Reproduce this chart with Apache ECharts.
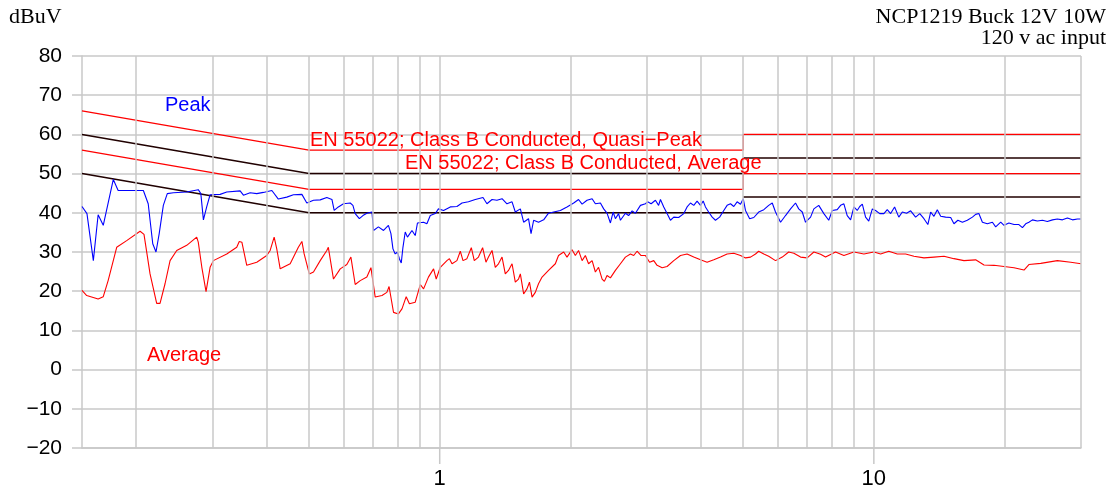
<!DOCTYPE html>
<html>
<head>
<meta charset="utf-8">
<script src="https://cdn.jsdelivr.net/npm/echarts@6/dist/echarts.min.js"></script>
<style>
  html, body { margin: 0; padding: 0; background: #fff; }
  #chart { width: 1114px; height: 493px; }
</style>
</head>
<body>
<div id="chart"></div>
<script>
// frequency in MHz, level in dBuV
const peakData = [
  [0.15, 41.6], [0.154, 39.8], [0.1593, 27.8], [0.1634, 39.5], [0.1679, 36.8], [0.1771, 48.5],
  [0.1817, 45.7], [0.1935, 45.7], [0.2077, 45.7], [0.2131, 42.3], [0.2183, 32.1], [0.2221, 30.0],
  [0.2259, 34.7], [0.2309, 41.9], [0.2358, 44.9], [0.2435, 45.1], [0.2614, 45.3], [0.2779, 45.9],
  [0.2817, 44.9], [0.2856, 38.2], [0.2906, 41.5], [0.2959, 44.6], [0.3121, 44.7], [0.3232, 45.3],
  [0.347, 45.6], [0.3531, 44.5], [0.3659, 45.1], [0.379, 44.9], [0.3926, 45.2], [0.4106, 45.7],
  [0.4249, 43.5], [0.4444, 44.0], [0.4604, 44.6], [0.4815, 44.7], [0.4942, 42.5], [0.512, 43.2],
  [0.5306, 43.3], [0.5495, 43.9], [0.5646, 43.4], [0.5714, 40.6], [0.5842, 41.5], [0.6004, 42.3],
  [0.6221, 42.5], [0.6311, 41.9], [0.6388, 39.8], [0.653, 38.5], [0.6655, 39.3], [0.6795, 39.9],
  [0.6981, 40.2], [0.704, 35.5], [0.7224, 36.4], [0.7424, 35.5], [0.7618, 36.8], [0.7721, 34.7],
  [0.7804, 30.8], [0.7898, 29.5], [0.7992, 30.0], [0.8074, 28.3], [0.8155, 27.2], [0.8229, 31.2],
  [0.8329, 35.1], [0.8428, 33.8], [0.8632, 35.5], [0.8783, 34.2], [0.8887, 37.4], [0.918, 37.6],
  [0.9343, 37.2], [0.9513, 39.3], [0.9767, 39.8], [0.9933, 41.0], [1.0208, 40.6], [1.0578, 41.5],
  [1.0956, 41.6], [1.1256, 42.5], [1.1648, 42.8], [1.2077, 43.4], [1.2582, 43.9], [1.2847, 42.3],
  [1.3199, 43.4], [1.3547, 43.2], [1.3918, 43.6], [1.4285, 42.3], [1.4677, 42.8], [1.4933, 40.2],
  [1.5338, 41.0], [1.5607, 37.6], [1.6016, 38.5], [1.6233, 34.7], [1.6458, 38.1], [1.6889, 37.6],
  [1.7355, 38.2], [1.7809, 39.9], [1.8301, 40.2], [1.8965, 40.6], [1.9642, 41.5], [2.0351, 42.5],
  [2.0883, 43.4], [2.1281, 42.2], [2.1842, 43.2], [2.2441, 43.6], [2.2833, 42.3], [2.3451, 42.5],
  [2.3864, 41.0], [2.4288, 39.9], [2.4729, 37.4], [2.5085, 40.2], [2.539, 38.5], [2.5822, 39.8],
  [2.6078, 38.1], [2.6774, 39.9], [2.723, 39.3], [2.7749, 40.5], [2.8233, 39.9], [2.8998, 41.9],
  [2.9772, 42.3], [3.0126, 42.8], [3.0692, 42.3], [3.1395, 43.2], [3.193, 41.9], [3.2246, 43.4],
  [3.2813, 41.5], [3.3397, 39.8], [3.4003, 38.1], [3.4602, 38.9], [3.5506, 38.8], [3.6488, 39.8],
  [3.7137, 41.5], [3.7812, 42.5], [3.8477, 41.9], [3.9161, 43.0], [3.9873, 41.9], [4.0447, 43.0],
  [4.0937, 41.5], [4.1635, 40.2], [4.2429, 38.9], [4.3169, 38.1], [4.4132, 38.9], [4.5118, 40.6],
  [4.5921, 41.9], [4.6755, 42.3], [4.7578, 41.6], [4.8424, 42.8], [4.9304, 42.2], [5.0014, 43.6],
  [5.062, 40.6], [5.1749, 38.5], [5.2906, 38.8], [5.4289, 40.2], [5.579, 40.8], [5.7249, 41.9],
  [5.834, 42.5], [5.9358, 40.2], [6.0966, 37.6], [6.2593, 39.3], [6.4289, 41.0], [6.6005, 42.5],
  [6.713, 41.0], [6.841, 40.2], [6.9603, 37.6], [7.1489, 38.9], [7.2747, 41.0], [7.4649, 41.9],
  [7.5386, 41.9], [7.6713, 39.8], [7.8718, 38.1], [8.0218, 40.6], [8.2333, 40.8], [8.3828, 41.9],
  [8.5304, 42.3], [8.6821, 39.3], [8.8398, 38.2], [8.9954, 41.5], [9.1554, 40.6], [9.2782, 41.6],
  [9.4065, 42.2], [9.5705, 38.9], [9.7337, 37.9], [9.9192, 41.0], [10.092, 40.6], [10.317, 39.8],
  [10.548, 39.8], [10.736, 40.8], [10.931, 39.8], [11.163, 41.5], [11.414, 38.9], [11.631, 40.2],
  [11.895, 39.9], [12.155, 40.5], [12.479, 38.9], [12.758, 39.8], [13.043, 38.5], [13.316, 37.0],
  [13.516, 40.2], [13.754, 39.1], [13.999, 40.8], [14.253, 39.1], [14.633, 38.9], [15.03, 38.8],
  [15.294, 37.2], [15.614, 38.1], [15.993, 37.6], [16.415, 38.1], [16.865, 38.9], [17.159, 39.6],
  [17.452, 39.8], [17.784, 37.6], [18.253, 37.2], [18.754, 37.6], [19.081, 36.4], [19.598, 37.6],
  [19.943, 36.8], [20.464, 37.4], [21.03, 37.0], [21.58, 37.0], [21.991, 36.2], [22.374, 37.2],
  [22.756, 37.6], [23.19, 38.2], [23.801, 37.9], [24.454, 38.1], [25.098, 37.8], [25.787, 38.2],
  [26.467, 38.4], [27.192, 38.2], [27.909, 38.7], [28.675, 38.2], [29.431, 38.4], [30, 38.4]
];

const averageData = [
  [0.15, 20.2], [0.1538, 18.9], [0.1634, 18.0], [0.1679, 18.6], [0.1723, 22.7], [0.1803, 31.2],
  [0.1901, 32.9], [0.2041, 35.3], [0.2084, 34.5], [0.2152, 24.4], [0.2229, 16.9], [0.2269, 16.9],
  [0.233, 21.9], [0.2393, 27.8], [0.2479, 30.4], [0.2614, 31.7], [0.2756, 33.8], [0.2779, 32.5],
  [0.2832, 26.1], [0.2896, 19.9], [0.2959, 26.1], [0.3011, 27.8], [0.3232, 29.5], [0.3408, 31.2],
  [0.3454, 32.7], [0.3502, 32.5], [0.3594, 26.6], [0.379, 27.4], [0.3996, 29.1], [0.4069, 30.4],
  [0.4156, 33.8], [0.4214, 30.8], [0.4291, 25.7], [0.4525, 27.0], [0.4725, 31.2], [0.4815, 32.7],
  [0.4873, 29.5], [0.5008, 24.4], [0.512, 24.9], [0.5306, 27.8], [0.5495, 30.4], [0.554, 31.2],
  [0.5693, 23.1], [0.59, 25.7], [0.611, 26.8], [0.6244, 28.7], [0.6388, 21.7], [0.6561, 22.7],
  [0.6795, 23.6], [0.6944, 26.0], [0.7103, 18.5], [0.7362, 18.9], [0.7556, 19.7], [0.7645, 21.2],
  [0.7828, 14.6], [0.8033, 14.2], [0.8186, 15.5], [0.8372, 18.6], [0.8515, 16.8], [0.8783, 17.2],
  [0.9021, 21.7], [0.918, 20.6], [0.942, 23.6], [0.968, 25.7], [0.9817, 23.1], [1.0031, 26.1],
  [1.0389, 27.8], [1.0529, 28.3], [1.0674, 27.0], [1.0956, 27.8], [1.1155, 30.2], [1.1315, 27.8],
  [1.1553, 28.3], [1.1825, 31.1], [1.2013, 27.8], [1.2282, 28.7], [1.2556, 31.1], [1.2781, 27.4],
  [1.2952, 28.7], [1.3199, 30.4], [1.3429, 26.1], [1.3658, 27.0], [1.3918, 28.7], [1.4161, 24.4],
  [1.4402, 25.3], [1.4677, 27.0], [1.4933, 22.3], [1.5188, 23.1], [1.5338, 24.4], [1.5607, 19.3],
  [1.5885, 20.6], [1.6098, 22.3], [1.6321, 18.5], [1.6605, 19.7], [1.6889, 21.9], [1.721, 23.6],
  [1.7809, 25.3], [1.8465, 27.0], [1.878, 29.1], [1.8965, 28.7], [1.9299, 30.0], [1.9642, 28.7],
  [2.0181, 30.6], [2.0533, 29.1], [2.0883, 30.4], [2.1281, 27.8], [2.1652, 29.1], [2.2021, 27.0],
  [2.2441, 27.8], [2.2833, 24.9], [2.3222, 26.1], [2.3665, 23.1], [2.3951, 22.5], [2.4288, 24.0],
  [2.4729, 23.4], [2.539, 25.3], [2.6078, 27.0], [2.6774, 28.7], [2.7499, 29.5], [2.7983, 29.1],
  [2.8481, 30.2], [2.9105, 29.1], [2.9772, 29.1], [3.0436, 27.4], [3.1117, 27.8], [3.167, 26.6],
  [3.2539, 26.0], [3.3397, 26.3], [3.4602, 27.8], [3.5857, 29.1], [3.7137, 29.5], [3.8477, 28.7],
  [3.9873, 28.0], [4.1296, 27.4], [4.2786, 28.0], [4.4338, 28.7], [4.5921, 29.5], [4.7578, 29.7],
  [4.9304, 29.1], [5.062, 28.5], [5.1991, 28.7], [5.3379, 29.5], [5.4289, 30.2], [5.579, 29.5],
  [5.7249, 28.9], [5.9358, 27.8], [6.152, 28.7], [6.366, 30.0], [6.542, 29.7], [6.7793, 28.7],
  [7.0213, 28.5], [7.2747, 30.0], [7.5386, 29.4], [7.7399, 28.7], [8.1617, 30.0], [8.5304, 29.1],
  [8.9954, 30.0], [9.4857, 29.5], [10.003, 30.0], [10.366, 29.5], [10.824, 30.2], [11.321, 29.5],
  [11.834, 29.5], [12.369, 28.9], [13.043, 28.5], [13.754, 28.7], [14.504, 28.9], [15.294, 28.3],
  [16.128, 27.8], [17.159, 28.0], [17.934, 26.7], [18.912, 26.6], [19.943, 26.3], [21.03, 26.0],
  [22.176, 25.4], [22.756, 26.8], [24.233, 27.1], [26.467, 27.8], [28.416, 27.4], [30, 27.0]
];

// EN 55022 class B limits and the 6 dB margin lines (null breaks the line)
const qpLimit = [[0.15, 66], [0.5, 56], [5, 56], [5, 60], [30, 60]];
const avgLimit = [[0.15, 56], [0.5, 46], [5, 46], [5, 50], [30, 50]];
const qpMargin = [[0.15, 60], [0.5, 50], [5, 50], [5, null], [5, 54], [30, 54]];
const avgMargin = [[0.15, 50], [0.5, 40], [5, 40], [5, null], [5, 44], [30, 44]];

const gridFreqs = [0.2, 0.3, 0.4, 0.5, 0.6, 0.7, 0.8, 0.9, 1, 2, 3, 4, 5, 6, 7, 8, 9, 10, 20, 30];
const xTickLabels = [1, 10];

const GRID = '#c8c8c8';
const SANS = '"Liberation Sans", Arial, sans-serif';
const SERIF = '"Liberation Serif", "Times New Roman", serif';

const chart = echarts.init(document.getElementById('chart'), null, { renderer: 'canvas' });

const lineSeries = (name, data, color, width) => ({
  name,
  type: 'line',
  data,
  symbol: 'none',
  silent: true,
  animation: false,
  lineStyle: { color, width },
  z: 3
});

const texts = [
  { type: 'text', x: 9, y: 17.5, style: { text: 'dBuV', font: '22px ' + SERIF, fill: '#000', textVerticalAlign: 'middle' } },
  { type: 'text', x: 1106, y: 17.5, style: { text: 'NCP1219 Buck 12V 10W', font: '22px ' + SERIF, fill: '#000', textAlign: 'right', textVerticalAlign: 'middle' } },
  { type: 'text', x: 1106, y: 38.5, style: { text: '120 v ac input', font: '22px ' + SERIF, fill: '#000', textAlign: 'right', textVerticalAlign: 'middle' } },
  { type: 'text', x: 165, y: 105, z: 10, style: { text: 'Peak', font: '20px ' + SANS, fill: '#0000ff', textVerticalAlign: 'middle' } },
  { type: 'text', x: 147, y: 355, z: 10, style: { text: 'Average', font: '20px ' + SANS, fill: '#ff0000', textVerticalAlign: 'middle' } },
  { type: 'text', x: 310, y: 140, z: 10, style: { text: 'EN 55022; Class B Conducted, Quasi\u2212Peak', font: '20px ' + SANS, fill: '#ff0000', textVerticalAlign: 'middle' } },
  { type: 'text', x: 405, y: 163, z: 10, style: { text: 'EN 55022; Class B Conducted, Average', font: '20px ' + SANS, fill: '#ff0000', textVerticalAlign: 'middle' } }
];

chart.setOption({
  backgroundColor: '#fff',
  animation: false,
  grid: { left: 82, right: 33, top: 56, bottom: 45 },
  xAxis: {
    type: 'log',
    logBase: 10,
    min: 0.15,
    max: 30,
    // keep the axis at the bottom edge, not at y = 0
    axisLine: { show: true, onZero: false, lineStyle: { color: GRID, width: 1.5 } },
    splitLine: { show: false },
    axisTick: { show: false },
    axisLabel: {
      showMinLabel: false,
      showMaxLabel: false,
      fontSize: 22,
      fontFamily: SANS,
      color: '#000',
      margin: 20,
      formatter: (v) => (xTickLabels.indexOf(Math.round(v * 1000) / 1000) >= 0 ? String(Math.round(v)) : '')
    }
  },
  yAxis: {
    type: 'value',
    min: -20,
    max: 80,
    interval: 10,
    axisLine: { show: true, lineStyle: { color: GRID, width: 1.5 } },
    axisTick: { show: true, length: 10, lineStyle: { color: GRID, width: 1.5 } },
    splitLine: { show: true, lineStyle: { color: GRID, width: 1.5 } },
    axisLabel: {
      fontSize: 21,
      fontFamily: SANS,
      color: '#000',
      margin: 20,
      formatter: (v) => String(v).replace('-', '\u2212')
    }
  },
  series: [
    {
      name: 'grid',
      type: 'line',
      data: [],
      silent: true,
      z: 1,
      markLine: {
        silent: true,
        symbol: 'none',
        animation: false,
        label: { show: false },
        lineStyle: { color: GRID, width: 1.5, type: 'solid' },
        data: gridFreqs.map((f) => ({ xAxis: f }))
      }
    },
    lineSeries('QP limit', qpLimit, '#ff0000', 1.3),
    lineSeries('Average limit', avgLimit, '#ff0000', 1.3),
    lineSeries('QP margin', qpMargin, '#200000', 1.5),
    lineSeries('Average margin', avgMargin, '#200000', 1.5),
    lineSeries('Average', averageData, '#ff0000', 1.1),
    lineSeries('Peak', peakData, '#0000ff', 1.1)
  ],
  graphic: texts
});

// major ticks under 1 and 10 MHz, placed through the axis scale
const axisY = chart.convertToPixel({ yAxisIndex: 0 }, -20);
const ticks = xTickLabels.map((f) => {
  const x = chart.convertToPixel({ xAxisIndex: 0 }, f);
  return {
    type: 'line',
    silent: true,
    shape: { x1: x, y1: axisY, x2: x, y2: axisY + 16 },
    style: { stroke: GRID, lineWidth: 1.5 }
  };
});
chart.setOption({ graphic: texts.concat(ticks) });

window.addEventListener('resize', () => chart.resize());
</script>
</body>
</html>
